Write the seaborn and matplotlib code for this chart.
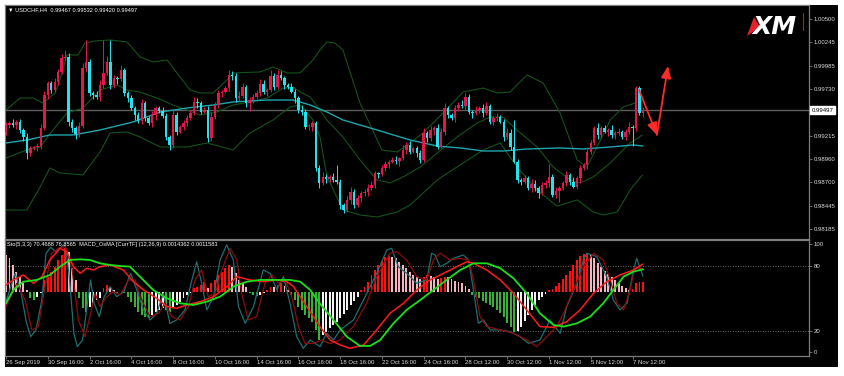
import numpy as np
import pandas as pd
import matplotlib
matplotlib.use("Agg")
import matplotlib.pyplot as plt
import matplotlib.transforms as mtrans
from matplotlib.patches import Polygon
import seaborn as sns

sns.set_theme(style="dark")
plt.rcParams['font.family'] = ['Liberation Sans', 'DejaVu Sans']

# ---------------- data ----------------
symbol_title = "\u25BC USDCHF,H4  0.99467 0.99532 0.99420 0.99497"
sub_title = "Sto(5,3,3) 70.4688 76.8565  MACD_OsMA [CurrTF] (12,26,9) 0.0014362 0.0011583"
last_price = 0.99497
first_open = 0.99260

closes = [
    0.99333, 0.99359, 0.99330, 0.99370, 0.99278, 0.99205, 0.99021, 0.99076, 0.99087, 0.99102,
    0.99297, 0.99664, 0.99792, 0.99719, 0.99810, 0.99920, 1.00067, 1.00085, 0.99370, 0.99297,
    0.99234, 0.99322, 0.99957, 1.00030, 0.99682, 0.99664, 0.99638, 0.99774, 0.99902, 1.00030,
    0.99774, 0.99847, 0.99836, 0.99939, 0.99682, 0.99627, 0.99517, 0.99443, 0.99381, 0.99572,
    0.99407, 0.99352, 0.99443, 0.99517, 0.99491, 0.99432, 0.99205, 0.99113, 0.99443, 0.99260,
    0.99308, 0.99359, 0.99407, 0.99469, 0.99590, 0.99572, 0.99480, 0.99498, 0.99187, 0.99418,
    0.99553, 0.99682, 0.99700, 0.99737, 0.99884, 0.99873, 0.99627, 0.99652, 0.99755, 0.99572,
    0.99608, 0.99638, 0.99689, 0.99785, 0.99700, 0.99719, 0.99873, 0.99755, 0.99884, 0.99847,
    0.99774, 0.99755, 0.99700, 0.99627, 0.99498, 0.99480, 0.99308, 0.99308, 0.99352, 0.98856,
    0.98691, 0.98764, 0.98735, 0.98764, 0.98728, 0.98709, 0.98453, 0.98398, 0.98508, 0.98599,
    0.98453, 0.98526, 0.98581, 0.98599, 0.98636, 0.98673, 0.98801, 0.98794, 0.98856, 0.98904,
    0.98930, 0.98948, 0.98933, 0.98966, 0.99058, 0.99113, 0.99040, 0.99076, 0.99021, 0.98948,
    0.99241, 0.99186, 0.99278, 0.99297, 0.99095, 0.99260, 0.99517, 0.99443, 0.99407, 0.99517,
    0.99553, 0.99542, 0.99645, 0.99480, 0.99462, 0.99498, 0.99517, 0.99462, 0.99542, 0.99370,
    0.99407, 0.99425, 0.99370, 0.99205, 0.99249, 0.99095, 0.98930, 0.98728, 0.98709, 0.98746,
    0.98636, 0.98684, 0.98636, 0.98581, 0.98673, 0.98691, 0.98764, 0.98563, 0.98610, 0.98636,
    0.98691, 0.98783, 0.98709, 0.98654, 0.98746, 0.98856, 0.98893, 0.99040, 0.99131, 0.99297,
    0.99223, 0.99297, 0.99260, 0.99278, 0.99223, 0.99241, 0.99260, 0.99205, 0.99260, 0.99315,
    0.99297, 0.99737, 0.99467, 0.99497]

# wick lengths in pips (1 pip = 0.0001)
wick_up = [
    3, 2, 4, 2, 3, 2, 4, 3, 2, 3, 5, 4, 3, 2, 4, 3, 5, 7, 4, 3,
    2, 4, 6, 24, 3, 2, 4, 5, 37, 6, 24, 4, 3, 5, 2, 3, 4, 2, 3, 5,
    2, 3, 4, 3, 2, 4, 3, 2, 6, 3, 2, 3, 4, 3, 5, 4, 2, 3, 4, 6,
    3, 4, 2, 3, 5, 4, 3, 6, 4, 2, 3, 4, 3, 5, 4, 2, 6, 3, 5, 4,
    3, 2, 4, 3, 2, 5, 3, 4, 2, 3, 4, 5, 3, 2, 4, 17, 3, 2, 4, 5,
    3, 4, 2, 3, 5, 4, 3, 2, 4, 3, 2, 3, 4, 2, 5, 3, 4, 2, 3, 4,
    6, 3, 4, 2, 5, 4, 6, 3, 2, 4, 3, 5, 4, 3, 2, 4, 3, 5, 4, 2,
    3, 4, 2, 3, 5, 4, 29, 3, 2, 4, 3, 5, 4, 2, 3, 4, 14, 3, 4, 2,
    3, 4, 2, 5, 3, 4, 2, 5, 4, 3, 6, 3, 4, 2, 5, 3, 4, 2, 3, 5,
    2, 2, 3, 3]
wick_dn = [
    4, 3, 2, 4, 3, 5, 6, 3, 2, 4, 3, 2, 4, 3, 2, 4, 3, 2, 5, 4,
    6, 3, 2, 4, 3, 5, 2, 4, 3, 2, 4, 3, 5, 2, 3, 4, 2, 5, 3, 4,
    3, 2, 4, 5, 3, 2, 4, 6, 3, 4, 2, 3, 4, 2, 3, 5, 3, 2, 4, 3,
    2, 3, 4, 2, 3, 5, 4, 3, 2, 4, 8, 3, 2, 4, 3, 5, 2, 4, 3, 2,
    4, 3, 2, 5, 3, 4, 2, 3, 4, 3, 5, 2, 4, 3, 2, 3, 4, 3, 2, 4,
    3, 2, 4, 3, 5, 2, 3, 4, 2, 3, 4, 2, 3, 5, 2, 4, 3, 2, 4, 3,
    2, 4, 3, 5, 3, 2, 4, 3, 2, 4, 3, 2, 4, 3, 5, 2, 3, 4, 2, 3,
    4, 3, 2, 5, 3, 4, 2, 3, 4, 3, 2, 4, 3, 5, 2, 3, 4, 2, 3, 12,
    2, 3, 4, 2, 3, 5, 2, 4, 3, 2, 4, 3, 2, 5, 3, 4, 2, 3, 4, 3,
    20, 3, 2, 5]

# Bollinger bands (20) and moving average: (bar index, price)
bb_upper = [(0, 0.99498), (4.0, 0.99630), (7.8, 0.99630), (10.6, 0.99575), (14.1, 0.99685),
            (15.5, 0.99829), (17.5, 1.00104), (20.7, 1.00104), (22.7, 1.00236), (25.6, 1.00258),
            (29.9, 1.00269), (34.8, 1.00247), (38.5, 1.00082), (42.2, 1.00027), (46.3, 1.00049),
            (49.1, 0.99906), (52.9, 0.99718), (55.7, 0.99686), (59.5, 0.99686), (63.5, 0.99829),
            (65.2, 0.99906), (73.0, 0.99917), (76.7, 0.99972), (80.7, 0.99906), (84.5, 0.99906),
            (88.2, 1.00049), (90.2, 1.00159), (92.2, 1.00247), (94.5, 1.00236), (96.8, 1.00159),
            (101.7, 0.99575), (108.0, 0.99058), (112.4, 0.99036), (116.1, 0.99135), (119.8, 0.99245),
            (125.6, 0.99465), (131.3, 0.99696), (137.1, 0.99740), (141.1, 0.99686), (144.8, 0.99696),
            (149.7, 0.99884), (154.3, 0.99796), (159.2, 0.99465), (164.1, 0.98948), (166.9, 0.98870),
            (169.8, 0.99091), (173.6, 0.99388), (177.3, 0.99531), (180.7, 0.99575), (182.8, 0.99608)]
bb_middle = [(0, 0.98970), (6.0, 0.99058), (9.8, 0.99090), (13.5, 0.99278), (17.5, 0.99465),
             (22.1, 0.99520), (27.0, 0.99718), (31.9, 0.99773), (34.8, 0.99718), (38.5, 0.99696),
             (43.4, 0.99630), (48.0, 0.99553), (52.0, 0.99498), (55.7, 0.99443), (60.6, 0.99476),
             (65.2, 0.99553), (70.1, 0.99586), (75.0, 0.99630), (79.6, 0.99740), (82.5, 0.99751),
             (84.5, 0.99696), (87.4, 0.99641), (90.2, 0.99498), (92.2, 0.99388), (96.8, 0.99200),
             (101.7, 0.98948), (106.6, 0.98727), (110.3, 0.98695), (114.1, 0.98761), (119.0, 0.98871),
             (123.9, 0.99025), (129.6, 0.99201), (135.3, 0.99355), (139.1, 0.99421), (142.8, 0.99421),
             (146.8, 0.99278), (152.6, 0.99091), (157.2, 0.98870), (162.1, 0.98727), (164.9, 0.98695),
             (168.7, 0.98761), (173.6, 0.98915), (179.3, 0.99135), (182.8, 0.99223)]
bb_lower = [(0, 0.98397), (6.0, 0.98397), (9.8, 0.98650), (12.6, 0.98860), (15.5, 0.98805),
            (22.1, 0.98783), (27.0, 0.99035), (29.9, 0.99245), (34.8, 0.99256), (38.5, 0.99201),
            (44.3, 0.99091), (52.0, 0.99091), (57.8, 0.99135), (65.2, 0.99058), (70.1, 0.99245),
            (76.7, 0.99388), (81.6, 0.99531), (84.5, 0.99553), (88.2, 0.99388), (90.2, 0.99201),
            (92.2, 0.98770), (96.8, 0.98397), (101.7, 0.98343), (106.6, 0.98320), (112.4, 0.98375),
            (116.1, 0.98452), (123.9, 0.98728), (131.3, 0.98915), (137.1, 0.99058), (142.0, 0.99135),
            (146.8, 0.98871), (152.6, 0.98617), (158.3, 0.98440), (164.1, 0.98508), (168.7, 0.98375),
            (171.6, 0.98343), (175.6, 0.98375), (179.3, 0.98617), (182.8, 0.98782)]
moving_avg = [(0, 0.99135), (6.0, 0.99168), (12.6, 0.99223), (19.3, 0.99223), (27.0, 0.99278),
              (36.5, 0.99366), (44.3, 0.99476), (52.0, 0.99520), (59.5, 0.99553), (65.2, 0.99586),
              (75.0, 0.99608), (82.5, 0.99608), (87.4, 0.99553), (92.2, 0.99476), (96.8, 0.99388),
              (106.6, 0.99278), (116.1, 0.99168), (123.9, 0.99101), (130.5, 0.99080), (137.1, 0.99047),
              (142.8, 0.99047), (149.7, 0.99069), (159.2, 0.99080), (165.8, 0.99069), (173.6, 0.99091),
              (180.2, 0.99113), (183.0, 0.99102)]

# MACD OsMA histogram, in points (1e-4)
osma_hist = [
    52.8, 48.0, 38.4, 28.8, 21.6, 12.0, 2.4, -9.6, -12.0, -7.2,
    -2.4, 16.8, 21.6, 28.8, 36.0, 45.6, 52.8, 62.4, 57.6, 33.6,
    16.8, -9.6, -24.0, -28.8, -21.6, -16.8, -12.0, -9.6, 4.8, 9.6,
    7.2, 2.4, -1.4, -1.0, -2.4, -7.2, -14.4, -21.6, -28.8, -33.6,
    -37.0, -38.4, -33.6, -28.8, -26.4, -24.0, -26.4, -28.8, -21.6, -19.2,
    -14.4, -9.6, -4.8, -1.4, 4.8, 7.2, 9.6, 14.4, 4.8, 12.0,
    16.8, 24.0, 28.8, 33.6, 38.4, 36.0, 26.4, 16.8, 12.0, 7.2,
    -2.4, -4.8, -6.2, -4.8, -2.4, 2.4, 7.2, 6.2, 9.6, 12.0,
    8.2, 2.4, -4.8, -12.0, -21.6, -26.4, -33.6, -38.4, -43.2, -55.2,
    -69.6, -62.4, -57.6, -52.8, -48.0, -43.2, -38.4, -32.2, -26.4, -19.2,
    -13.0, -7.2, 2.4, 7.2, 14.4, 24.0, 31.2, 38.4, 44.6, 49.4,
    51.8, 50.4, 48.0, 43.2, 38.4, 33.6, 28.8, 24.0, 20.6, 17.8,
    21.6, 24.0, 22.6, 20.6, 17.8, 19.2, 21.6, 20.6, 17.8, 15.8,
    14.4, 12.0, 8.2, 3.4, -4.8, -7.2, -9.6, -13.0, -15.8, -19.2,
    -21.6, -26.4, -31.2, -37.0, -44.6, -51.4, -57.6, -56.2, -50.4, -41.8,
    -33.6, -26.4, -19.2, -12.0, -7.2, -3.4, 2.4, 4.3, 8.2, 13.0,
    17.8, 24.0, 30.2, 38.4, 45.6, 51.4, 54.2, 55.2, 52.8, 48.0,
    41.8, 36.0, 30.2, 25.4, 21.6, 16.8, 12.0, 8.2, 4.8, 2.4,
    3.4, 12.0, 13.4, 14.4]

# oscillator lines (bar index, value on 0-100 scale)
sto_k = [(0, 46.9), (2.6, 73.1), (4.2, 57.7), (5.8, 28.4), (7.1, 14.5), (8.6, 20.7), (10.3, 48.4),
         (11.5, 91.7), (12.8, 97.2), (14.4, 93.2), (16.0, 97.8), (17.0, 99.4), (18.2, 70.0),
         (19.5, 17.6), (20.5, 5.2), (22.0, 11.4), (23.4, 45.4), (24.3, 67.0), (25.3, 45.4),
         (26.8, 33.0), (28.2, 51.5), (29.9, 60.8), (31.8, 51.5), (33.9, 56.2), (35.8, 73.1),
         (37.6, 57.7), (39.5, 39.2), (41.4, 29.9), (43.3, 36.1), (45.2, 54.6), (47.1, 26.8),
         (49.0, 29.9), (51.4, 39.2), (53.4, 67.0), (54.8, 83.9), (56.2, 63.9), (57.7, 39.2),
         (59.6, 51.5), (61.5, 85.5), (63.4, 99.5), (65.3, 85.5), (66.8, 42.3), (68.7, 26.8),
         (71.1, 42.3), (73.9, 76.2), (75.9, 73.1), (77.8, 57.7), (79.7, 70.0), (81.6, 45.4),
         (83.5, 14.5), (85.4, 3.7), (87.4, 11.4), (90.2, 5.2), (92.1, 17.6), (94.1, 11.4),
         (96.0, 20.7), (99.8, 29.9), (102.7, 48.4), (106.5, 73.1), (109.4, 94.7), (110.8, 96.3),
         (112.7, 79.3), (115.1, 73.1), (118.0, 63.9), (120.9, 67.0), (122.3, 91.7), (123.3, 90.1),
         (124.7, 79.3), (126.6, 82.4), (128.5, 87.0), (131.4, 90.1), (132.9, 85.5), (134.3, 57.7),
         (135.7, 26.8), (137.2, 29.9), (139.1, 20.7), (142.0, 20.7), (144.8, 19.1), (147.7, 14.5),
         (150.1, 8.3), (153.4, 11.4), (156.3, 29.9), (159.2, 17.6), (161.1, 42.3), (164.0, 63.9),
         (165.9, 85.5), (166.9, 91.7), (169.7, 88.6), (172.6, 70.0), (174.5, 48.4), (176.4, 39.2),
         (178.4, 45.4), (180.3, 76.2), (181.2, 87.0), (183.0, 70.5)]
sto_d = [(0, 42.3), (3.1, 63.9), (5.5, 48.4), (7.4, 20.7), (9.3, 23.8), (11.2, 60.8), (13.1, 91.7),
         (15.0, 96.3), (17.0, 97.8), (18.9, 79.3), (20.8, 29.9), (22.7, 14.5), (24.1, 33.0),
         (25.6, 54.6), (27.0, 42.3), (28.9, 51.5), (30.8, 56.2), (32.8, 53.1), (35.2, 67.0),
         (37.1, 67.0), (39.0, 48.4), (41.4, 33.0), (43.8, 36.1), (45.7, 45.4), (47.6, 33.0),
         (50.0, 29.9), (52.4, 42.3), (54.3, 67.0), (56.2, 76.2), (58.1, 51.5), (60.1, 54.6),
         (62.0, 76.2), (64.4, 96.3), (66.3, 85.5), (67.7, 54.6), (69.6, 29.9), (72.0, 33.0),
         (74.4, 63.9), (76.4, 71.6), (78.3, 63.9), (80.2, 67.0), (82.1, 51.5), (84.0, 23.8),
         (85.9, 8.3), (88.3, 8.3), (90.7, 11.4), (93.1, 8.0), (96.0, 11.4), (99.8, 23.8),
         (103.6, 45.4), (106.5, 70.0), (110.3, 91.7), (112.3, 93.2), (115.1, 85.5), (118.0, 70.0),
         (120.9, 67.0), (122.8, 85.5), (124.7, 91.7), (127.6, 85.5), (130.5, 87.0), (132.9, 85.5),
         (134.3, 67.0), (136.2, 33.0), (138.1, 23.8), (142.0, 20.7), (145.8, 17.6), (149.6, 11.4),
         (152.5, 5.2), (155.4, 14.5), (158.2, 23.8), (160.2, 36.1), (163.0, 57.7), (165.9, 79.3),
         (168.8, 91.7), (171.6, 85.5), (173.6, 67.0), (175.5, 45.4), (177.4, 39.2), (179.3, 57.7),
         (180.7, 79.3), (183.0, 76.9)]
macd_main = [(0, 62.3), (2.1, 67.0), (5.0, 71.6), (7.9, 63.9), (10.3, 70.0), (12.6, 85.5), (15.5, 96.3),
             (17.4, 93.2), (19.4, 79.3), (21.3, 73.1), (23.2, 77.8), (25.1, 76.2), (27.0, 79.3),
             (29.9, 80.9), (33.7, 76.2), (36.6, 65.4), (39.5, 57.7), (43.3, 50.0), (46.2, 42.3),
             (49.0, 40.7), (51.9, 43.8), (55.8, 46.9), (59.6, 51.5), (63.4, 60.8), (66.3, 70.0),
             (70.1, 67.0), (73.9, 65.4), (77.8, 67.0), (80.7, 65.4), (82.6, 60.8), (86.4, 42.3),
             (90.2, 23.8), (93.1, 11.4), (96.0, 6.8), (98.8, 3.7), (102.7, 6.8), (106.5, 20.7),
             (110.3, 36.1), (114.2, 45.4), (118.0, 57.7), (121.8, 67.0), (125.7, 73.1), (129.5, 79.3),
             (132.4, 83.9), (134.3, 82.4), (138.1, 76.2), (142.0, 67.0), (145.8, 54.6), (149.6, 39.2),
             (153.4, 23.8), (157.3, 23.1), (161.1, 28.4), (164.9, 39.2), (168.8, 54.6), (172.6, 65.4),
             (176.4, 71.6), (180.3, 76.2), (183.0, 81.8)]
macd_signal = [(0, 45.4), (2.1, 57.7), (5.0, 65.4), (8.8, 67.0), (12.6, 71.6), (15.5, 79.3), (18.4, 85.5),
               (21.3, 86.1), (24.1, 85.5), (27.0, 82.4), (29.9, 80.9), (32.8, 79.9), (35.6, 79.3),
               (38.5, 70.0), (42.3, 57.7), (46.2, 50.0), (50.0, 45.4), (53.8, 43.8), (57.7, 46.9),
               (61.5, 51.5), (65.3, 60.8), (69.2, 65.4), (73.0, 67.0), (77.8, 67.0), (81.6, 67.0),
               (84.5, 65.4), (87.4, 57.7), (90.2, 45.0), (94.1, 29.9), (97.9, 14.5), (101.7, 5.9),
               (104.6, 5.9), (107.5, 11.4), (111.3, 26.8), (115.1, 39.2), (119.0, 48.4), (122.8, 57.7),
               (126.6, 67.0), (130.5, 76.2), (134.3, 82.4), (138.1, 82.4), (142.0, 77.8), (145.8, 68.5),
               (149.6, 54.6), (153.4, 36.1), (157.3, 25.3), (160.2, 23.8), (164.0, 26.8), (167.8, 33.0),
               (171.6, 45.4), (174.5, 57.7), (177.4, 70.0), (180.3, 74.7), (183.0, 76.9)]

date_labels = ["26 Sep 2019", "30 Sep 16:00", "2 Oct 16:00", "4 Oct 16:00", "8 Oct 16:00",
               "10 Oct 16:00", "14 Oct 16:00", "16 Oct 16:00", "18 Oct 16:00", "22 Oct 16:00",
               "24 Oct 16:00", "28 Oct 12:00", "30 Oct 12:00", "1 Nov 12:00", "5 Nov 12:00",
               "7 Nov 12:00"]
bars_per_label = 12
price_ticks = [1.00500, 1.00245, 0.99985, 0.99730, 0.99475, 0.99215, 0.98960, 0.98700, 0.98445, 0.98185]
osc_ticks = [0, 20, 80, 100]

# forecast arrow drawn on the chart: (bar index, price)
arrow_path = [(181.9, 0.99718), (187.0, 0.99223), (190.2, 0.99983)]

# ---------------- styling ----------------
W, H = 844, 376
BULL = "#e3174a"
BEAR = "#22e4ee"
FRAME = "#7c7c7c"
TXT = "#dcdcdc"
BAND = "#14531a"
FS = 4.3

fig = plt.figure(figsize=(W / 100, H / 100), dpi=100, facecolor="white")
bg = fig.add_axes([5 / W, 1 - 367 / H, 833 / W, 362 / H], zorder=-5)
bg.set_facecolor("black")
bg.set_xticks([]); bg.set_yticks([])
for s in bg.spines.values():
    s.set_visible(False)

ax1 = fig.add_axes([5 / W, 1 - 239 / H, 804 / W, 234 / H], zorder=1)
ax2 = fig.add_axes([5 / W, 1 - 356 / H, 804 / W, 116 / H], zorder=1)
XMIN, XMAX = -0.29, 230.7
for ax in (ax1, ax2):
    ax.set_facecolor("black")
    ax.grid(False)
    ax.set_xlim(XMIN, XMAX)
    for s in ax.spines.values():
        s.set_color(FRAME)
        s.set_linewidth(0.9)

# ---------------- upper panel ----------------
n = len(closes)
idx = np.arange(n)
c = np.array(closes)
o = np.array([first_open] + closes[:-1])
hi = np.maximum(o, c) + np.array(wick_up) * 1e-4
lo = np.minimum(o, c) - np.array(wick_dn) * 1e-4
cols = np.where(c >= o, BULL, BEAR)

def vline_df(pts):
    return pd.DataFrame(pts, columns=["i", "v"])

for pts, colr, lw in [(bb_upper, BAND, 0.8), (bb_lower, BAND, 0.8),
                      (bb_middle, BAND, 0.8), (moving_avg, "#1fa5ad", 1.0)]:
    d = vline_df(pts)
    sns.lineplot(data=d, x="i", y="v", ax=ax1, color=colr, linewidth=lw,
                 estimator=None, sort=False, legend=False, zorder=2)

ax1.axhline(last_price, color="#5e5e5e", linewidth=1.0, zorder=1)
ax1.vlines(idx, lo, hi, colors=cols, linewidth=0.7, zorder=3)
body = np.maximum(np.abs(c - o), 0.00003)
ax1.bar(idx, body, bottom=np.minimum(o, c), width=0.7, color=cols, linewidth=0, zorder=4)

# arrow
for a, b in [(arrow_path[0], arrow_path[1]), (arrow_path[1], arrow_path[2])]:
    ax1.annotate("", xy=b, xytext=a,
                 arrowprops=dict(arrowstyle="-|>,head_length=0.6,head_width=0.25", color="#ff2a2a",
                                 lw=1.3, shrinkA=0, shrinkB=0), zorder=6)

ax1.set_ylim(0.98078, 1.00654)
ax1.yaxis.tick_right()
ax1.set_yticks(price_ticks)
ax1.set_yticklabels([f"{p:.5f}" for p in price_ticks])
ax1.tick_params(axis="y", colors=FRAME, labelcolor=TXT, labelsize=FS, length=2, width=0.6, pad=1.5,
                right=True, left=False)
ax1.set_xticks([])
ax1.set_xlabel("")
ax1.set_ylabel("")

# price tag (covers the 0.99475 label, as in the terminal)
tr = mtrans.blended_transform_factory(ax1.transAxes, ax1.transData)
ax1.text(1.0 + 2.5 / 804, last_price, f"{last_price:.5f}", transform=tr, fontsize=FS, color="black",
         va="center", ha="left", zorder=10, clip_on=False,
         bbox=dict(boxstyle="square,pad=0.25", facecolor="white", edgecolor="white"))

fig.text(8 / W, 1 - 10 / H, symbol_title, color="white", fontsize=4.1, va="center", ha="left", zorder=5)

# XM logo
fig.patches.append(Polygon([(747 / W, 1 - 36 / H), (754 / W, 1 - 17 / H), (760 / W, 1 - 27 / H)],
                           closed=True, transform=fig.transFigure, facecolor="#e8202a",
                           edgecolor="none", zorder=5))
fig.text(752 / W, 1 - 26.5 / H, "XM", color="white", fontsize=18, fontweight="bold", style="italic",
         family=["DejaVu Sans"], va="center", ha="left", zorder=6)
fig.add_artist(plt.Line2D([803 / W, 803 / W], [1 - 13 / H, 1 - 30 / H], color="#c01818", lw=0.8,
                          transform=fig.transFigure, zorder=5))

# ---------------- lower panel ----------------
zero_level = 56.1          # where the histogram zero sits on the 0-100 oscillator scale
pts_to_units = 0.643       # histogram points -> oscillator units
h = np.array(osma_hist)
prev = np.concatenate([[h[0] + 1], h[:-1]])
hcols = np.where(h >= 0, np.where(h > prev, "#ff1010", "#f6b4c0"),
                 np.where(h < prev, "#36b336", "#f2f2f2"))
ax2.bar(idx, h * pts_to_units, bottom=zero_level, width=0.55, color=hcols, linewidth=0, zorder=2)

for lvl in (80, 20):
    ax2.axhline(lvl, color="#8a8a8a", linewidth=0.6, linestyle=(0, (1, 2)), zorder=1)

for pts, colr, lw in [(sto_k, "#1f6e70", 0.9), (sto_d, "#8e0d0d", 0.9),
                      (macd_main, "#ff1a1a", 1.1), (macd_signal, "#19e019", 1.3)]:
    d = vline_df(pts)
    sns.lineplot(data=d, x="i", y="v", ax=ax2, color=colr, linewidth=lw,
                 estimator=None, sort=False, legend=False, zorder=3)

ax2.set_ylim(-3.43, 103.98)
ax2.yaxis.tick_right()
ax2.set_yticks(osc_ticks)
ax2.set_yticklabels([str(t) for t in osc_ticks])
ax2.tick_params(axis="y", colors=FRAME, labelcolor=TXT, labelsize=FS, length=2, width=0.6, pad=1.5,
                right=True, left=False)
tick_pos = [k * bars_per_label for k in range(len(date_labels))]
ax2.set_xticks(tick_pos)
ax2.set_xticklabels(date_labels, ha="left")
ax2.tick_params(axis="x", colors=FRAME, labelcolor=TXT, labelsize=FS, length=2, width=0.6, pad=0.8,
                bottom=True)
ax2.set_xlabel("")
ax2.set_ylabel("")

fig.text(7 / W, 1 - 244.5 / H, sub_title, color="white", fontsize=4.1, va="center", ha="left", zorder=5)

fig.savefig("out.png", dpi=100, facecolor="white")
